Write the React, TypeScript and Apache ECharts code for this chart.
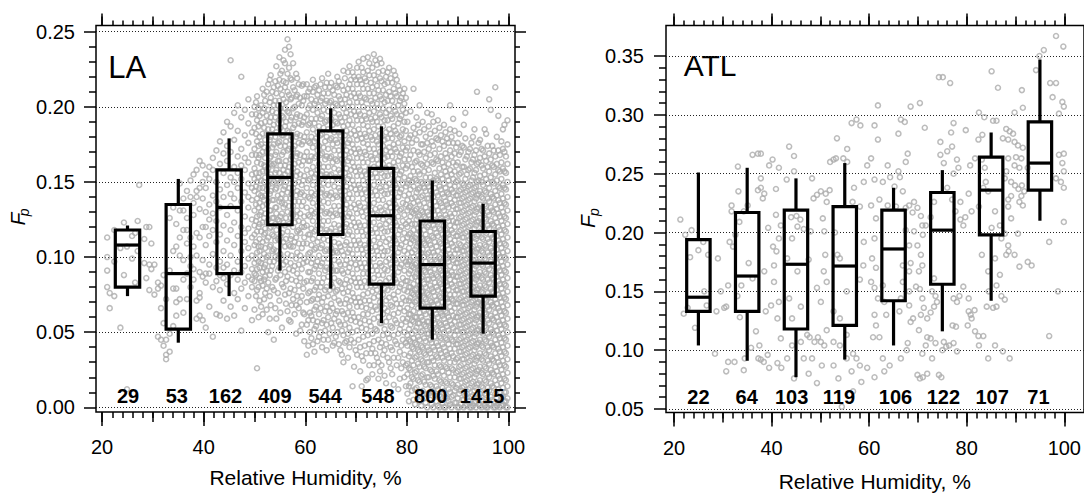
import React, { useEffect, useRef } from "react";
import * as echarts from "echarts";

const FONT = "'Liberation Sans', Arial, Helvetica, sans-serif";

// ---------- bins ----------
const binCenters = [25, 35, 45, 55, 65, 75, 85, 95];

// ---------- LA box statistics ----------
const laLow = [0.074, 0.043, 0.074, 0.091, 0.079, 0.056, 0.045, 0.049];
const laQ1 = [0.08, 0.052, 0.089, 0.1215, 0.115, 0.082, 0.066, 0.074];
const laMedian = [0.108, 0.089, 0.133, 0.153, 0.153, 0.1275, 0.095, 0.096];
const laQ3 = [0.118, 0.135, 0.158, 0.182, 0.184, 0.159, 0.124, 0.117];
const laHigh = [0.121, 0.152, 0.179, 0.203, 0.199, 0.187, 0.151, 0.1355];
const laCounts = [29, 53, 162, 409, 544, 548, 800, 1415];
const laCountRH = [25.1, 34.7, 44.3, 54.0, 63.9, 74.3, 84.7, 94.8];
const laCountLevel = 0.0075;

// ---------- ATL box statistics ----------
const atlLow = [0.104, 0.091, 0.077, 0.092, 0.104, 0.116, 0.142, 0.21];
const atlQ1 = [0.133, 0.133, 0.118, 0.121, 0.142, 0.156, 0.198, 0.236];
const atlMedian = [0.145, 0.163, 0.173, 0.1715, 0.186, 0.202, 0.236, 0.259];
const atlQ3 = [0.194, 0.217, 0.219, 0.222, 0.219, 0.234, 0.264, 0.294];
const atlHigh = [0.251, 0.255, 0.246, 0.259, 0.238, 0.253, 0.285, 0.347];
const atlCounts = [22, 64, 103, 119, 106, 122, 107, 71];
const atlCountRH = [25.0, 34.9, 44.1, 53.8, 65.4, 75.2, 85.2, 94.7];
const atlCountLevel = 0.0598;

// ---------- axis tick values ----------
const rhTicks = [20, 40, 60, 80, 100];
const laFpTicks = [0.0, 0.05, 0.1, 0.15, 0.2, 0.25];
const atlFpTicks = [0.05, 0.1, 0.15, 0.2, 0.25, 0.3, 0.35];

// ---------- LA scatter (RH, Fp in thousandths) ----------
const laColumns: [number, number[]][] = [
  [21.0, [100, 91, 113, 80]], [21.5, [66, 76]], [22.4, [74, 118, 97]], [23.6, [53, 106]],
  [24.3, [123, 88]], [24.9, [12, 107]], [25.9, [99, 114]], [26.5, [116, 83]], [27.0, [124, 104]],
  [27.3, [148]], [28.3, [112, 96]], [28.7, [120, 86]], [29.3, [78, 120, 95]], [29.7, [109, 92]],
  [30.3, [75, 95]], [31.0, [47, 79, 83]], [31.6, [45, 81, 66]], [32.1, [41, 56, 88]],
  [32.6, [35, 32, 45, 72]], [33.3, [37, 49, 91, 126]], [34.0, [54, 79, 104, 133]],
  [34.6, [107, 79, 70, 61, 122]], [35.3, [101, 113, 72, 149, 131]], [36.0, [98, 131, 85, 118, 139, 63]],
  [36.7, [109, 89, 144, 118, 126, 72]], [37.4, [100, 94, 140, 151, 80, 113]],
  [38.0, [85, 136, 128, 107, 92, 155]], [38.6, [116, 140, 59, 71, 144, 158, 101]],
  [39.2, [113, 146, 61, 76, 164, 73, 132, 90]], [39.8, [150, 58, 87, 161, 120, 98, 139]],
  [40.4, [120, 83, 53, 155, 89, 130, 146, 108]], [41.1, [67, 89, 135, 152, 95, 125, 160, 114]],
  [41.8, [80, 47, 141, 158, 102, 118, 129, 166]], [42.5, [84, 62, 93, 137, 150, 171, 110, 124]],
  [43.2, [61, 78, 97, 145, 162, 133, 115, 177, 88]], [43.9, [71, 86, 104, 121, 140, 156, 169, 183, 93]],
  [44.6, [59, 82, 95, 111, 128, 148, 164, 174, 190]], [45.3, [67, 88, 101, 118, 134, 153, 187, 231, 170, 142]],
  [46.0, [61, 76, 91, 108, 123, 139, 160, 178, 196, 150]], [46.7, [72, 85, 97, 114, 131, 146, 167, 184, 201, 156]],
  [47.4, [51, 79, 90, 104, 120, 137, 152, 172, 193, 220, 161]],
  [48.1, [66, 83, 94, 110, 127, 143, 158, 166, 181, 198, 116]],
  [48.8, [74, 87, 99, 106, 119, 133, 149, 163, 176, 189, 205, 140]],
  [49.5, [58, 80, 85, 92, 101, 113, 125, 138, 155, 168, 183, 195, 146]],
  [50.0, [65, 84, 89, 96, 108, 121, 131, 144, 159, 172, 186, 200, 152, 115]],
  [50.3, [74, 88, 99, 110, 124, 135, 147, 156, 168, 182, 195, 203]],
  [50.5, [26, 78, 92, 103, 117, 127, 139, 150, 163, 177, 191, 207]],
  [50.8, [60, 80, 97, 107, 120, 133, 142, 153, 166, 174, 187, 199]],
  [51.0, [71, 86, 93, 104, 112, 128, 136, 146, 156, 168, 180, 194, 122]],
  [51.3, [67, 84, 96, 107, 117, 130, 141, 151, 162, 175, 189, 201]],
  [51.6, [62, 81, 90, 99, 110, 123, 134, 146, 157, 170, 182, 196, 212, 140]],
  [51.9, [72, 85, 93, 102, 115, 126, 138, 150, 161, 173, 186, 199, 208]],
  [52.1, [76, 87, 95, 106, 119, 129, 141, 153, 166, 178, 190, 204, 116, 160]],
  [52.4, [65, 79, 91, 100, 111, 123, 135, 145, 157, 170, 182, 194, 210]],
  [52.7, [50, 83, 101, 113, 125, 137, 148, 159, 172, 185, 198, 215]],
  [53.0, [59, 74, 88, 97, 107, 119, 131, 142, 153, 166, 178, 190, 203, 218]],
  [53.2, [68, 91, 108, 120, 131, 144, 155, 167, 180, 193, 206, 221, 162]],
  [53.5, [80, 94, 104, 115, 126, 138, 149, 161, 173, 185, 197, 210]],
  [53.8, [45, 78, 97, 114, 126, 138, 150, 162, 175, 188, 201, 213, 105]],
  [54.1, [66, 85, 100, 111, 122, 133, 145, 156, 168, 180, 193, 204, 217]],
  [54.3, [59, 86, 104, 118, 133, 146, 158, 170, 183, 196, 209, 227, 129]],
  [54.6, [76, 91, 99, 112, 125, 141, 152, 164, 176, 189, 201, 214]],
  [54.9, [71, 93, 111, 124, 137, 149, 164, 177, 191, 204, 218, 233, 156]],
  [55.1, [63, 88, 102, 114, 127, 139, 150, 161, 174, 186, 199, 212, 222]],
  [55.4, [53, 82, 99, 116, 129, 142, 153, 168, 181, 194, 208, 224, 136]],
  [55.7, [80, 95, 110, 123, 133, 145, 158, 170, 181, 193, 205, 217, 231]],
  [56.0, [75, 90, 107, 121, 135, 147, 161, 174, 187, 199, 213, 229, 238, 155]],
  [56.2, [69, 84, 97, 112, 126, 139, 150, 164, 177, 190, 203, 216]],
  [56.5, [64, 87, 102, 117, 130, 143, 157, 171, 184, 197, 210, 222, 245]],
  [56.8, [58, 76, 92, 108, 122, 134, 146, 160, 172, 183, 196, 208, 226, 240]],
  [57.1, [57, 79, 96, 112, 126, 139, 152, 165, 178, 191, 205, 219, 235, 107]],
  [57.3, [68, 85, 101, 114, 129, 142, 154, 167, 180, 193, 206, 218]],
  [57.6, [72, 91, 107, 120, 134, 146, 159, 172, 186, 199, 213, 128, 229]],
  [57.9, [62, 78, 94, 110, 123, 137, 149, 162, 174, 188, 200, 211]],
  [58.2, [49, 68, 84, 99, 113, 127, 141, 154, 167, 180, 193, 207, 222]],
  [58.4, [74, 89, 103, 117, 131, 144, 157, 169, 182, 195, 208, 219]],
  [58.7, [66, 81, 95, 109, 124, 137, 150, 163, 176, 189, 202, 215, 118]],
  [59.0, [51, 70, 86, 101, 116, 129, 142, 155, 168, 181, 194, 206]],
  [59.3, [55, 74, 92, 106, 120, 134, 148, 161, 175, 188, 201, 214, 143]],
  [59.6, [63, 79, 96, 109, 123, 137, 151, 164, 177, 190, 204, 215]],
  [59.8, [44, 62, 83, 99, 113, 127, 141, 154, 167, 180, 193, 207, 120]],
  [60.3, [35, 55, 70, 84, 97, 109, 121, 133, 146, 158, 170, 183, 195, 207, 215]],
  [60.6, [41, 58, 76, 90, 102, 115, 128, 140, 151, 164, 177, 188, 199, 210]],
  [60.9, [50, 63, 77, 90, 103, 115, 127, 139, 152, 164, 176, 189, 201, 212]],
  [61.2, [46, 61, 71, 84, 96, 108, 119, 131, 143, 156, 167, 180, 192, 205]],
  [61.5, [42, 58, 72, 86, 99, 112, 124, 136, 148, 160, 173, 185, 198, 210, 218]],
  [61.8, [37, 52, 65, 78, 92, 105, 117, 129, 141, 153, 166, 177, 189, 202, 213]],
  [62.1, [54, 67, 80, 94, 106, 118, 130, 142, 155, 167, 179, 192, 204, 214]],
  [62.4, [44, 57, 72, 83, 97, 110, 121, 134, 146, 158, 171, 183, 196, 208]],
  [62.7, [47, 62, 75, 89, 101, 113, 126, 138, 150, 162, 174, 187, 200, 211]],
  [63.0, [50, 66, 80, 94, 106, 119, 131, 143, 155, 168, 181, 192, 204, 215]],
  [63.3, [40, 56, 70, 83, 96, 108, 121, 133, 145, 157, 169, 182, 194, 206, 219]],
  [63.6, [45, 58, 73, 86, 99, 112, 124, 137, 149, 160, 173, 186, 198, 209]],
  [63.9, [51, 64, 78, 91, 104, 116, 129, 141, 153, 165, 177, 190, 202, 213]],
  [64.2, [38, 55, 67, 80, 93, 105, 118, 130, 142, 155, 167, 180, 191, 204, 216]],
  [64.5, [45, 60, 74, 87, 99, 111, 124, 136, 148, 160, 172, 185, 197, 209, 222]],
  [64.8, [49, 64, 78, 92, 104, 117, 129, 141, 154, 166, 178, 191, 203, 213]],
  [65.1, [56, 69, 82, 94, 106, 119, 131, 143, 155, 167, 179, 192, 204, 216]],
  [65.4, [41, 53, 66, 80, 91, 103, 115, 127, 139, 151, 163, 175, 188, 200, 211]],
  [65.7, [43, 59, 73, 86, 98, 110, 122, 134, 147, 159, 171, 183, 196, 208]],
  [66.0, [47, 62, 77, 91, 104, 117, 129, 141, 153, 165, 178, 190, 202, 214]],
  [66.3, [50, 64, 78, 91, 103, 115, 128, 140, 152, 164, 176, 189, 201, 213, 220]],
  [66.6, [42, 57, 71, 84, 97, 109, 121, 134, 146, 158, 171, 183, 195, 207, 217]],
  [66.9, [38, 55, 69, 83, 95, 107, 119, 131, 144, 156, 168, 181, 193, 205]],
  [67.2, [35, 51, 64, 79, 91, 104, 116, 128, 141, 153, 165, 177, 190, 202, 214]],
  [67.5, [30, 48, 62, 76, 89, 101, 114, 126, 138, 150, 162, 174, 187, 199, 211, 224]],
  [67.8, [43, 55, 69, 82, 95, 108, 120, 132, 144, 156, 168, 181, 193, 205, 219]],
  [68.1, [44, 59, 72, 85, 98, 110, 122, 135, 147, 159, 171, 184, 196, 208]],
  [68.4, [33, 49, 63, 77, 90, 103, 115, 127, 139, 152, 164, 176, 188, 200, 212, 223]],
  [68.7, [40, 53, 67, 80, 93, 105, 117, 129, 142, 154, 166, 178, 191, 203, 215, 227]],
  [69.0, [45, 58, 71, 84, 96, 108, 121, 133, 146, 158, 170, 182, 195, 207, 218]],
  [69.3, [14, 50, 63, 76, 89, 102, 114, 126, 139, 151, 163, 175, 188, 200, 212, 223]],
  [69.6, [27, 43, 60, 73, 86, 99, 111, 123, 135, 148, 160, 172, 184, 197, 209, 220]],
  [69.9, [38, 57, 70, 83, 95, 108, 120, 132, 145, 157, 169, 181, 194, 206, 218]],
  [70.2, [35, 51, 67, 80, 92, 105, 117, 129, 142, 154, 166, 178, 191, 203, 215, 226]],
  [70.5, [45, 60, 73, 86, 99, 111, 123, 136, 148, 160, 172, 185, 197, 209, 220, 230]],
  [70.8, [24, 40, 56, 70, 83, 96, 109, 121, 134, 146, 158, 170, 182, 195, 207, 218]],
  [71.1, [14, 34, 53, 67, 80, 93, 105, 117, 130, 142, 154, 166, 179, 191, 203, 215, 226]],
  [71.4, [31, 47, 62, 75, 89, 102, 114, 127, 139, 151, 163, 176, 188, 200, 212, 223, 232]],
  [71.7, [41, 58, 71, 84, 96, 108, 121, 133, 145, 157, 170, 182, 194, 206, 219]],
  [72.0, [18, 36, 52, 66, 80, 93, 106, 118, 131, 143, 155, 168, 180, 192, 205, 217]],
  [72.3, [19, 48, 62, 76, 89, 101, 114, 126, 138, 150, 163, 175, 187, 199, 212, 224, 233]],
  [72.6, [28, 42, 57, 71, 84, 97, 110, 123, 135, 147, 159, 172, 184, 196, 209, 221, 229]],
  [72.9, [36, 54, 68, 81, 94, 106, 118, 131, 143, 155, 167, 180, 192, 204, 216]],
  [73.2, [22, 39, 49, 64, 77, 91, 104, 116, 129, 141, 153, 165, 178, 190, 202, 213, 226]],
  [73.5, [28, 44, 59, 73, 86, 99, 111, 123, 136, 148, 160, 172, 185, 197, 209, 221, 235]],
  [73.8, [36, 52, 67, 81, 94, 107, 119, 132, 144, 156, 169, 181, 193, 206, 218, 231]],
  [74.1, [33, 51, 65, 78, 91, 104, 116, 128, 141, 153, 165, 177, 190, 202, 214, 228]],
  [74.4, [19, 30, 45, 60, 74, 88, 101, 113, 126, 138, 150, 162, 175, 187, 199, 211, 223]],
  [74.7, [24, 40, 56, 70, 83, 96, 109, 121, 133, 146, 158, 170, 182, 195, 207, 219, 232]],
  [75.0, [28, 43, 56, 68, 81, 94, 106, 119, 131, 144, 156, 168, 180, 193, 205, 217, 229]],
  [75.3, [35, 48, 62, 75, 88, 101, 113, 125, 138, 150, 162, 174, 187, 199, 211, 224]],
  [75.6, [21, 38, 52, 66, 79, 92, 104, 117, 129, 142, 154, 166, 178, 191, 203, 215]],
  [75.9, [16, 42, 57, 71, 84, 97, 110, 122, 134, 147, 159, 171, 183, 196, 208, 220]],
  [76.2, [33, 49, 64, 78, 91, 104, 117, 130, 142, 154, 167, 179, 191, 204, 216, 223]],
  [76.5, [30, 46, 60, 73, 86, 99, 112, 124, 136, 149, 161, 173, 185, 198, 210, 226]],
  [76.8, [26, 40, 54, 68, 81, 95, 108, 120, 133, 145, 157, 170, 182, 194, 207, 219]],
  [77.1, [22, 38, 53, 67, 80, 93, 106, 118, 130, 143, 155, 167, 179, 192, 204, 216]],
  [77.4, [15, 33, 48, 62, 75, 88, 101, 113, 126, 138, 151, 163, 175, 187, 200, 212, 224]],
  [77.7, [44, 58, 72, 85, 98, 111, 123, 135, 148, 160, 172, 184, 197, 209, 221]],
  [78.0, [28, 42, 56, 69, 83, 96, 109, 121, 133, 146, 158, 170, 182, 195, 207, 218]],
  [78.3, [12, 33, 49, 63, 77, 90, 103, 115, 127, 140, 152, 164, 176, 189, 201, 214]],
  [78.6, [19, 37, 52, 66, 80, 93, 106, 118, 131, 143, 155, 167, 180, 192, 204, 211]],
  [78.9, [26, 41, 55, 69, 82, 95, 108, 120, 132, 145, 157, 169, 181, 194, 206]],
  [79.2, [30, 45, 59, 73, 86, 99, 112, 124, 136, 149, 161, 173, 185, 198, 209]],
  [79.5, [20, 35, 50, 64, 78, 91, 104, 116, 128, 141, 153, 165, 177, 190, 202, 212]],
  [79.8, [14, 28, 43, 57, 71, 84, 97, 110, 122, 135, 147, 159, 171, 184, 196, 206]],
  [80.1, [9, 22, 29, 41, 48, 59, 66, 77, 84, 95, 102, 113, 120, 131, 138, 149, 161, 173, 190]],
  [80.4, [4, 14, 26, 34, 45, 52, 62, 71, 80, 89, 97, 106, 115, 124, 133, 142, 151, 165, 179]],
  [80.7, [16, 25, 36, 44, 55, 62, 73, 80, 91, 98, 109, 116, 127, 134, 145, 154, 168, 181, 197]],
  [81.0, [11, 20, 31, 40, 49, 58, 68, 76, 86, 94, 103, 112, 122, 130, 139, 150, 160, 176]],
  [81.3, [5, 19, 28, 39, 46, 57, 64, 75, 82, 93, 100, 111, 118, 129, 136, 147, 157, 171, 186, 212]],
  [81.6, [2, 12, 23, 33, 43, 51, 60, 70, 78, 87, 95, 105, 113, 122, 131, 140, 152, 163, 182]],
  [81.9, [13, 24, 34, 42, 53, 60, 71, 79, 89, 96, 107, 115, 125, 132, 143, 151, 164, 178, 193]],
  [82.2, [8, 18, 29, 38, 47, 56, 66, 75, 84, 91, 101, 109, 119, 127, 137, 145, 157, 170, 188]],
  [82.5, [4, 17, 27, 37, 45, 56, 63, 74, 81, 92, 99, 110, 117, 128, 135, 146, 155, 168, 183, 201]],
  [82.8, [1, 10, 21, 32, 41, 50, 60, 68, 77, 86, 95, 103, 113, 121, 131, 140, 150, 162, 175]],
  [83.1, [11, 22, 31, 40, 51, 58, 69, 77, 87, 94, 105, 112, 123, 130, 141, 149, 161, 175, 190]],
  [83.4, [6, 17, 27, 36, 46, 55, 64, 73, 82, 91, 100, 109, 118, 127, 136, 146, 157, 170, 185]],
  [83.7, [3, 15, 26, 35, 44, 54, 62, 72, 80, 90, 97, 108, 115, 126, 133, 144, 153, 166, 180]],
  [84.0, [0, 9, 20, 30, 40, 49, 57, 67, 76, 85, 94, 102, 112, 120, 130, 139, 149, 162, 176, 196]],
  [84.3, [9, 20, 30, 38, 49, 57, 67, 75, 85, 93, 103, 111, 121, 128, 139, 147, 158, 172, 187]],
  [84.6, [5, 15, 25, 36, 45, 53, 63, 71, 81, 90, 98, 108, 117, 125, 135, 144, 153, 168, 182]],
  [84.9, [2, 14, 24, 33, 43, 52, 61, 70, 79, 88, 97, 106, 114, 124, 132, 142, 150, 163, 177, 195]],
  [85.2, [0, 10, 21, 31, 40, 50, 58, 68, 77, 86, 95, 103, 113, 121, 131, 140, 151, 162, 174, 190]],
  [85.5, [8, 19, 28, 38, 47, 56, 65, 74, 83, 92, 101, 110, 119, 128, 137, 146, 156, 169, 184]],
  [85.8, [4, 14, 24, 34, 43, 52, 62, 71, 80, 88, 97, 107, 116, 124, 134, 143, 152, 165, 179]],
  [86.1, [1, 12, 22, 33, 41, 51, 60, 69, 78, 87, 96, 104, 114, 123, 131, 141, 151, 164, 178, 191]],
  [86.4, [0, 8, 18, 28, 38, 47, 56, 65, 74, 83, 92, 100, 110, 119, 128, 137, 147, 159, 172, 186]],
  [86.7, [7, 17, 27, 36, 46, 55, 63, 73, 82, 91, 99, 109, 118, 126, 136, 145, 155, 167, 181]],
  [87.0, [3, 13, 24, 33, 42, 52, 61, 70, 79, 88, 97, 106, 115, 124, 133, 142, 152, 163, 177]],
  [87.3, [0, 11, 21, 31, 40, 50, 59, 67, 77, 86, 95, 104, 113, 121, 131, 140, 149, 160, 174, 188]],
  [87.6, [0, 7, 17, 27, 37, 46, 56, 64, 73, 83, 91, 101, 110, 118, 128, 137, 146, 157, 169, 183]],
  [87.9, [6, 16, 26, 35, 45, 54, 63, 72, 81, 89, 99, 108, 116, 126, 135, 143, 154, 166, 179]],
  [88.2, [4, 12, 23, 33, 42, 51, 60, 70, 78, 88, 97, 105, 115, 124, 133, 142, 151, 162, 176]],
  [88.5, [2, 10, 20, 30, 39, 49, 58, 67, 75, 85, 94, 102, 112, 121, 129, 139, 148, 158, 171, 185, 201]],
  [88.8, [0, 7, 16, 26, 36, 45, 55, 64, 72, 82, 90, 100, 109, 118, 127, 136, 145, 155, 167, 180]],
  [89.1, [8, 15, 25, 34, 44, 53, 61, 71, 80, 88, 98, 107, 116, 124, 134, 143, 152, 163, 176, 192]],
  [89.4, [3, 11, 20, 30, 39, 48, 57, 66, 75, 84, 93, 102, 111, 120, 129, 138, 147, 157, 169, 184]],
  [89.7, [3, 13, 23, 32, 42, 51, 60, 69, 78, 87, 96, 105, 114, 123, 132, 141, 150, 161, 173]],
  [90.0, [0, 6, 15, 24, 33, 42, 51, 60, 69, 78, 87, 96, 105, 114, 123, 132, 141, 151, 163, 176]],
  [90.3, [0, 9, 19, 27, 37, 45, 55, 63, 72, 82, 90, 99, 109, 117, 126, 136, 144, 155, 168, 182]],
  [90.6, [2, 11, 19, 28, 37, 46, 55, 64, 73, 82, 91, 100, 108, 118, 127, 136, 145, 156, 170]],
  [90.9, [5, 13, 22, 32, 40, 50, 58, 68, 77, 85, 94, 104, 113, 121, 130, 139, 149, 160, 174]],
  [91.2, [0, 5, 14, 23, 32, 41, 50, 59, 68, 77, 86, 95, 104, 113, 122, 131, 140, 148, 160, 173, 188]],
  [91.5, [1, 8, 17, 26, 35, 44, 53, 62, 71, 80, 89, 98, 107, 116, 125, 134, 143, 152, 165, 179, 196]],
  [91.8, [2, 9, 18, 27, 36, 45, 54, 63, 72, 81, 90, 99, 108, 117, 126, 135, 144, 155, 167]],
  [92.1, [4, 12, 21, 30, 39, 48, 57, 66, 75, 84, 93, 102, 111, 120, 129, 138, 147, 158, 170]],
  [92.4, [0, 4, 13, 22, 31, 40, 49, 58, 67, 76, 85, 94, 103, 112, 121, 130, 139, 148, 159, 172]],
  [92.7, [0, 7, 16, 25, 34, 43, 52, 61, 70, 79, 88, 97, 106, 115, 124, 133, 142, 151, 163, 176]],
  [93.0, [1, 8, 17, 26, 35, 44, 53, 62, 71, 80, 89, 98, 107, 116, 125, 134, 143, 153, 165, 180]],
  [93.3, [3, 11, 20, 29, 38, 47, 56, 65, 74, 83, 92, 101, 110, 119, 128, 137, 146, 156, 168, 185]],
  [93.6, [0, 4, 13, 22, 31, 40, 49, 58, 67, 76, 85, 94, 103, 112, 121, 130, 139, 147, 158, 171]],
  [93.8, [6, 15, 24, 33, 42, 51, 60, 69, 78, 87, 96, 105, 114, 123, 132, 141, 150, 162, 210]],
  [94.1, [2, 7, 16, 25, 34, 43, 52, 61, 70, 79, 88, 97, 106, 115, 124, 133, 142, 151, 163, 176]],
  [94.4, [1, 9, 18, 27, 36, 45, 54, 63, 72, 81, 90, 99, 108, 117, 126, 135, 144, 154, 166, 178]],
  [94.7, [0, 5, 14, 23, 32, 41, 50, 59, 68, 77, 86, 95, 104, 113, 122, 131, 140, 150, 161, 172]],
  [95.0, [4, 13, 22, 31, 40, 49, 58, 67, 76, 85, 94, 103, 112, 121, 130, 139, 148, 159, 171]],
  [95.3, [1, 9, 18, 27, 36, 45, 54, 63, 72, 81, 90, 99, 108, 117, 126, 135, 144, 155, 167, 185]],
  [95.6, [0, 8, 17, 26, 35, 44, 53, 62, 71, 80, 89, 98, 107, 116, 125, 134, 143, 152, 164, 182]],
  [95.9, [0, 4, 13, 22, 31, 40, 49, 58, 67, 76, 85, 94, 103, 112, 121, 130, 139, 149, 160, 174]],
  [96.2, [2, 11, 20, 29, 38, 47, 56, 65, 74, 83, 92, 101, 110, 119, 128, 137, 146, 157, 169, 205]],
  [96.5, [2, 7, 16, 25, 34, 43, 52, 61, 70, 79, 88, 97, 106, 115, 124, 133, 142, 153, 165, 198]],
  [96.8, [5, 14, 23, 32, 41, 50, 59, 68, 77, 86, 95, 104, 113, 122, 131, 140, 150, 161, 174]],
  [97.1, [0, 4, 13, 22, 31, 40, 49, 58, 67, 76, 85, 94, 103, 112, 121, 130, 139, 149, 160, 171]],
  [97.4, [0, 9, 18, 27, 36, 45, 54, 63, 72, 81, 90, 99, 108, 117, 126, 135, 144, 155, 167, 213]],
  [97.7, [1, 6, 15, 24, 33, 42, 51, 60, 69, 78, 87, 96, 105, 114, 123, 132, 141, 151, 162, 180]],
  [98.0, [3, 12, 21, 30, 39, 48, 57, 66, 75, 84, 93, 102, 111, 120, 129, 138, 147, 158, 171, 194]],
  [98.3, [0, 4, 10, 19, 28, 37, 46, 55, 64, 73, 82, 91, 100, 109, 118, 127, 136, 146, 157, 168]],
  [98.6, [1, 7, 16, 25, 34, 43, 52, 61, 70, 79, 88, 97, 106, 115, 124, 133, 142, 152, 163, 177]],
  [98.9, [2, 7, 13, 22, 31, 40, 49, 58, 67, 76, 85, 94, 103, 112, 121, 130, 139, 148, 159, 172, 185]],
  [99.2, [4, 10, 19, 28, 37, 46, 55, 64, 73, 82, 91, 100, 109, 118, 127, 136, 146, 157, 170, 188]],
  [99.5, [0, 4, 10, 18, 27, 36, 45, 54, 63, 72, 81, 90, 99, 108, 117, 126, 135, 145, 156, 167]],
  [99.8, [0, 6, 14, 23, 32, 41, 50, 59, 68, 77, 86, 95, 104, 113, 122, 131, 140, 150, 162, 175, 191]],
];

// ---------- ATL scatter (RH, Fp) ----------
const atlPoints: [number, number][] = [
  [21.3, 0.211], [22.3, 0.198], [23.6, 0.202], [22.0, 0.131], [22.8, 0.136], [24.3, 0.119], [23.3, 0.179],
  [25.0, 0.185], [26.0, 0.192], [27.0, 0.181], [26.7, 0.138], [26.2, 0.15], [28.4, 0.097], [29.6, 0.15],
  [30.3, 0.136], [30.7, 0.137], [31.1, 0.09], [31.8, 0.223], [32.1, 0.188], [32.6, 0.198], [31.4, 0.192],
  [33.1, 0.256], [33.2, 0.235], [33.8, 0.155], [33.0, 0.146], [34.3, 0.083], [33.5, 0.128], [36.1, 0.266],
  [37.2, 0.267], [37.8, 0.267], [37.2, 0.236], [37.8, 0.238], [38.5, 0.233], [38.2, 0.229], [37.8, 0.246],
  [36.8, 0.116], [37.5, 0.104], [37.8, 0.092], [38.4, 0.09], [37.3, 0.093], [39.2, 0.096], [39.5, 0.085],
  [38.5, 0.167], [39.3, 0.204], [38.8, 0.133], [39.9, 0.138], [39.5, 0.257], [40.2, 0.262], [40.9, 0.237],
  [41.5, 0.255], [41.9, 0.206], [40.3, 0.188], [41.0, 0.184], [40.5, 0.158], [41.5, 0.141], [41.2, 0.089],
  [42.0, 0.085], [43.6, 0.273], [44.6, 0.265], [43.1, 0.245], [44.6, 0.252], [44.0, 0.213], [45.1, 0.214],
  [45.9, 0.211], [45.3, 0.205], [46.6, 0.203], [44.2, 0.195], [43.2, 0.178], [45.3, 0.167], [43.6, 0.144],
  [46.0, 0.137], [44.2, 0.127], [47.3, 0.113], [47.8, 0.111], [48.8, 0.107], [49.5, 0.111], [50.1, 0.107],
  [50.8, 0.104], [48.3, 0.093], [47.6, 0.08], [50.3, 0.087], [49.3, 0.072], [46.6, 0.093], [49.3, 0.232],
  [50.1, 0.235], [51.1, 0.233], [51.9, 0.236], [52.7, 0.262], [52.0, 0.26], [53.2, 0.263], [54.7, 0.263],
  [55.5, 0.26], [55.5, 0.271], [56.4, 0.293], [57.4, 0.296], [58.2, 0.291], [53.4, 0.28], [51.3, 0.226],
  [50.5, 0.212], [50.8, 0.201], [51.0, 0.181], [50.7, 0.167], [51.3, 0.158], [50.1, 0.141], [53.0, 0.2],
  [53.5, 0.181], [54.0, 0.178], [56.6, 0.226], [58.1, 0.222], [58.9, 0.243], [59.6, 0.257], [56.9, 0.238],
  [58.9, 0.192], [55.4, 0.113], [56.7, 0.097], [58.1, 0.087], [57.4, 0.093], [56.4, 0.082], [59.6, 0.085],
  [58.4, 0.073], [54.4, 0.052], [48.0, 0.201], [47.6, 0.177], [49.3, 0.153], [52.7, 0.133], [54.0, 0.127],
  [48.3, 0.246], [48.6, 0.229], [55.4, 0.15], [58.1, 0.16], [58.8, 0.172], [32.4, 0.09], [34.5, 0.093],
  [30.7, 0.082], [35.8, 0.102], [28.7, 0.133], [29.0, 0.178], [31.1, 0.155], [35.3, 0.174], [36.1, 0.161],
  [33.4, 0.209], [34.3, 0.218], [35.1, 0.223], [31.8, 0.218], [40.9, 0.215], [41.5, 0.195], [40.5, 0.172],
  [41.2, 0.127], [41.9, 0.11], [43.2, 0.093], [44.6, 0.076], [44.2, 0.104], [46.0, 0.107], [52.7, 0.107],
  [51.3, 0.117], [54.0, 0.104], [55.4, 0.093], [56.7, 0.065], [52.7, 0.087], [53.7, 0.076],
  [61.8, 0.308], [68.5, 0.307], [70.4, 0.31], [66.5, 0.296], [67.3, 0.294], [66.0, 0.284], [61.8, 0.279],
  [74.3, 0.332], [75.1, 0.332], [76.6, 0.327], [71.4, 0.289], [82.5, 0.302], [83.6, 0.298], [85.4, 0.295],
  [86.1, 0.295], [85.1, 0.337], [86.4, 0.323], [91.3, 0.321], [91.5, 0.306], [89.8, 0.302], [77.3, 0.293],
  [76.8, 0.285], [79.8, 0.287], [82.4, 0.279], [83.2, 0.283], [94.9, 0.35], [95.8, 0.355], [98.3, 0.367],
  [99.8, 0.358], [94.2, 0.338], [97.1, 0.327], [98.3, 0.327], [97.6, 0.315], [99.6, 0.311], [98.9, 0.301],
  [99.9, 0.307], [87.4, 0.28], [88.1, 0.288], [88.8, 0.286], [89.5, 0.284], [88.5, 0.279], [89.8, 0.277],
  [90.5, 0.274], [91.5, 0.272], [91.2, 0.263], [92.5, 0.255], [90.1, 0.264], [89.8, 0.257], [90.8, 0.255],
  [88.5, 0.263], [87.8, 0.246], [89.1, 0.243], [89.9, 0.24], [90.6, 0.237], [91.3, 0.24], [91.8, 0.235],
  [91.2, 0.231], [90.8, 0.226], [91.5, 0.223], [89.1, 0.231], [88.5, 0.228], [88.1, 0.252], [98.9, 0.266],
  [99.9, 0.267], [99.6, 0.259], [99.9, 0.252], [99.3, 0.243], [99.9, 0.238], [98.3, 0.246], [99.9, 0.209],
  [98.7, 0.15], [96.9, 0.112], [96.9, 0.192], [61.1, 0.291], [60.4, 0.263], [61.1, 0.245], [62.8, 0.243],
  [63.8, 0.257], [64.3, 0.247], [66.0, 0.252], [66.3, 0.247], [67.9, 0.267], [67.5, 0.26], [65.2, 0.239],
  [66.9, 0.235], [68.2, 0.223], [69.2, 0.226], [69.9, 0.221], [68.9, 0.217], [70.6, 0.214], [70.9, 0.206],
  [71.0, 0.198], [69.9, 0.189], [70.6, 0.181], [70.9, 0.172], [70.2, 0.167], [68.5, 0.174], [68.2, 0.167],
  [68.2, 0.15], [69.6, 0.154], [70.4, 0.152], [71.2, 0.136], [61.4, 0.212], [61.1, 0.195], [60.6, 0.178],
  [61.4, 0.17], [60.4, 0.158], [61.1, 0.153], [61.8, 0.144], [61.1, 0.13], [61.4, 0.121], [60.8, 0.111],
  [62.1, 0.111], [62.8, 0.093], [61.1, 0.077], [64.2, 0.087], [63.1, 0.082], [66.5, 0.093], [67.9, 0.106],
  [68.5, 0.124], [69.0, 0.127], [67.7, 0.1], [70.6, 0.13], [70.2, 0.117], [71.9, 0.111], [72.6, 0.11],
  [71.6, 0.104], [70.9, 0.097], [69.9, 0.079], [70.4, 0.076], [71.0, 0.077], [71.9, 0.08], [74.3, 0.079],
  [74.8, 0.077], [72.9, 0.093], [73.6, 0.106], [75.3, 0.107], [75.8, 0.103], [76.4, 0.104], [75.0, 0.1],
  [77.1, 0.121], [77.8, 0.12], [78.0, 0.099], [77.3, 0.106], [77.3, 0.144], [78.0, 0.141], [78.5, 0.146],
  [79.3, 0.154], [80.4, 0.144], [80.4, 0.133], [80.8, 0.13], [81.6, 0.134], [81.0, 0.127], [80.2, 0.121],
  [81.7, 0.116], [82.4, 0.112], [83.4, 0.112], [82.5, 0.104], [84.1, 0.137], [84.5, 0.15], [85.4, 0.136],
  [86.1, 0.137], [87.1, 0.146], [87.8, 0.143], [86.1, 0.155], [86.8, 0.164], [88.1, 0.181], [88.6, 0.184],
  [89.8, 0.181], [92.5, 0.175], [93.3, 0.172], [90.8, 0.171], [87.4, 0.099], [88.8, 0.093], [84.4, 0.093],
  [85.8, 0.104], [78.7, 0.226], [80.4, 0.233], [80.7, 0.257], [81.7, 0.263], [83.1, 0.262], [83.7, 0.255],
  [83.9, 0.243], [83.4, 0.238], [84.4, 0.235], [82.5, 0.222], [81.0, 0.218], [79.7, 0.213], [79.3, 0.206],
  [78.7, 0.211], [77.7, 0.218], [77.0, 0.228], [76.0, 0.238], [77.3, 0.25], [78.3, 0.255], [78.0, 0.262],
  [75.3, 0.259], [74.6, 0.266], [76.0, 0.269], [77.0, 0.273], [74.6, 0.277], [73.3, 0.161], [72.9, 0.15],
  [73.6, 0.146], [73.9, 0.141], [73.3, 0.137], [72.6, 0.132], [71.9, 0.127], [70.9, 0.144], [71.6, 0.206],
  [72.6, 0.213], [73.3, 0.226], [89.1, 0.212], [90.5, 0.199], [87.8, 0.199], [87.1, 0.195], [88.5, 0.189],
  [86.8, 0.206], [88.5, 0.222], [85.8, 0.218], [85.1, 0.204], [85.8, 0.178], [84.4, 0.167], [83.1, 0.181],
  [67.5, 0.202], [68.2, 0.189], [69.2, 0.201], [60.4, 0.223], [62.1, 0.228], [63.8, 0.223], [65.5, 0.222],
  [67.5, 0.221], [66.9, 0.172], [66.9, 0.158], [66.5, 0.144], [66.2, 0.133], [68.2, 0.138], [63.1, 0.141],
  [63.5, 0.13], [62.8, 0.155],
];

// ---------- layout (pixels) ----------
const L = { frameL: 96, frameR: 515, frameT: 25.5, frameB: 412, x20: 102.1, x100: 508.5, yTop: 31.7, yBot: 407.3 };
const R = { frameL: 666, frameR: 1084.5, frameT: 25.5, frameB: 412.5, x20: 674, x100: 1069.3, yTop: 56, yBot: 409 };
const W = 1084;
const H = 493;

const laPoints = laColumns.flatMap(([rh, vals]) => vals.map((v) => [rh, v / 1000]));

function boxData(low: number[], q1: number[], med: number[], q3: number[], high: number[]) {
  return binCenters.map((c, i) => [c, low[i], q1[i], med[i], q3[i], high[i]]);
}

const boxRender = (params: any, api: any) => {
  const x = api.value(0);
  const lo = api.value(1);
  const q1 = api.value(2);
  const med = api.value(3);
  const q3 = api.value(4);
  const hi = api.value(5);
  const hw = 2.4;
  const tl = api.coord([x - hw, q3]);
  const br = api.coord([x + hw, q1]);
  const mL = api.coord([x - hw, med]);
  const mR = api.coord([x + hw, med]);
  const top = api.coord([x, hi]);
  const bot = api.coord([x, lo]);
  const cx = api.coord([x, med])[0];
  const st = { stroke: "#000", lineWidth: 3.2, fill: "none" };
  return {
    type: "group",
    children: [
      { type: "line", shape: { x1: cx, y1: tl[1], x2: cx, y2: top[1] }, style: st },
      { type: "line", shape: { x1: cx, y1: br[1], x2: cx, y2: bot[1] }, style: st },
      { type: "rect", shape: { x: tl[0], y: tl[1], width: br[0] - tl[0], height: br[1] - tl[1] }, style: st },
      { type: "line", shape: { x1: mL[0], y1: mL[1], x2: mR[0], y2: mR[1] }, style: st },
    ],
  };
};

const countRender = (params: any, api: any) => {
  const p = api.coord([api.value(0), api.value(1)]);
  return {
    type: "text",
    x: p[0],
    y: p[1],
    style: {
      text: String(api.value(2)),
      fill: "#000",
      fontSize: 20,
      fontWeight: "bold",
      fontFamily: FONT,
      align: "center",
      verticalAlign: "middle",
    },
  };
};

function gridRect(left: number, right: number, top: number, bottom: number, extra: any = {}) {
  return { left, top, width: right - left, height: bottom - top, containLabel: false, ...extra };
}

const hiddenAxis = (gridIndex: number) => ({
  type: "value",
  gridIndex,
  show: false,
  min: 0,
  max: 1,
  splitLine: { show: false },
  axisLine: { onZero: false },
});

function rhAxes(gridIndex: number) {
  const base = {
    type: "value",
    gridIndex,
    min: rhTicks[0],
    max: rhTicks[rhTicks.length - 1],
    axisLine: { show: false, onZero: false },
    splitLine: { show: false },
  };
  const tickStyle = { color: "#000", width: 1.5 };
  return [
    {
      ...base,
      position: "bottom",
      interval: 20,
      axisTick: { show: true, length: 14, lineStyle: tickStyle },
      minorTick: { show: true, splitNumber: 10, length: 6, lineStyle: tickStyle },
      axisLabel: {
        show: true,
        margin: 25,
        fontSize: 20,
        color: "#000",
        fontFamily: FONT,
        formatter: (v: number) => (rhTicks.includes(v) ? String(v) : ""),
      },
    },
    {
      ...base,
      position: "bottom",
      interval: 10,
      axisTick: { show: true, length: 10, lineStyle: tickStyle },
      axisLabel: { show: false },
    },
    {
      ...base,
      position: "top",
      interval: 20,
      axisTick: { show: true, length: 12, lineStyle: tickStyle },
      minorTick: { show: true, splitNumber: 10, length: 5, lineStyle: tickStyle },
      axisLabel: { show: false },
    },
    {
      ...base,
      position: "top",
      interval: 10,
      axisTick: { show: true, length: 9, lineStyle: tickStyle },
      axisLabel: { show: false },
    },
  ];
}

function fpAxes(gridIndex: number, ticks: number[], margin: number) {
  const tickStyle = { color: "#000", width: 1.5 };
  const base = {
    type: "value",
    gridIndex,
    min: ticks[0],
    max: ticks[ticks.length - 1],
    interval: 0.05,
    axisLine: { show: false, onZero: false },
  };
  return [
    {
      ...base,
      position: "left",
      axisTick: { show: true, length: 12, lineStyle: tickStyle },
      minorTick: { show: true, splitNumber: 5, length: 7, lineStyle: tickStyle },
      axisLabel: {
        show: true,
        margin,
        fontSize: 20,
        color: "#000",
        fontFamily: FONT,
        formatter: (v: number) => v.toFixed(2),
      },
      splitLine: { show: true, lineStyle: { color: "#222", width: 1, type: [1, 2] } },
    },
    {
      ...base,
      position: "right",
      axisTick: { show: true, length: 11, lineStyle: tickStyle },
      minorTick: { show: true, splitNumber: 5, length: 5, lineStyle: tickStyle },
      axisLabel: { show: false },
      splitLine: { show: false },
    },
  ];
}

const dataYAxis = (gridIndex: number, frameT: number, frameB: number, yTop: number, yBot: number, vTop: number, vBot: number) => {
  const perPx = (vTop - vBot) / (yBot - yTop);
  return {
    type: "value",
    gridIndex,
    show: false,
    min: vBot - (frameB - yBot) * perPx,
    max: vTop + (yTop - frameT) * perPx,
    splitLine: { show: false },
    axisLine: { onZero: false },
  };
};

const scatterStyle = { color: "rgba(0,0,0,0)", borderColor: "#ababab", borderWidth: 1.55 };

function buildOption() {
  const laTicks = laFpTicks;
  const atlTicks = atlFpTicks;
  return {
    animation: false,
    backgroundColor: "#fff",
    textStyle: { fontFamily: FONT },
    grid: [
      gridRect(L.frameL, L.frameR, L.frameT, L.frameB, { show: true, borderColor: "#000", borderWidth: 1.5, backgroundColor: "transparent" }),
      gridRect(L.frameL, L.frameR, L.yTop, L.yBot),
      gridRect(L.x20, L.x100, L.frameT, L.frameB),
      gridRect(R.frameL, R.frameR, R.frameT, R.frameB, { show: true, borderColor: "#000", borderWidth: 1.5, backgroundColor: "transparent" }),
      gridRect(R.frameL, R.frameR, R.yTop, R.yBot),
      gridRect(R.x20, R.x100, R.frameT, R.frameB),
    ],
    xAxis: [
      hiddenAxis(0),
      hiddenAxis(1),
      ...rhAxes(2),
      hiddenAxis(3),
      hiddenAxis(4),
      ...rhAxes(5),
    ],
    yAxis: [
      hiddenAxis(0),
      ...fpAxes(1, laTicks, 21),
      dataYAxis(2, L.frameT, L.frameB, L.yTop, L.yBot, laTicks[laTicks.length - 1], laTicks[0]),
      hiddenAxis(3),
      ...fpAxes(4, atlTicks, 22),
      dataYAxis(5, R.frameT, R.frameB, R.yTop, R.yBot, atlTicks[atlTicks.length - 1], atlTicks[0]),
    ],
    series: [
      {
        type: "scatter",
        xAxisIndex: 2,
        yAxisIndex: 3,
        data: laPoints,
        symbol: "circle",
        symbolSize: 5,
        itemStyle: scatterStyle,
        large: false,
        progressive: 0,
        silent: true,
        z: 1,
      },
      {
        type: "custom",
        xAxisIndex: 2,
        yAxisIndex: 3,
        data: boxData(laLow, laQ1, laMedian, laQ3, laHigh),
        renderItem: boxRender,
        encode: { x: 0, y: [1, 2, 3, 4, 5] },
        silent: true,
        z: 3,
      },
      {
        type: "custom",
        xAxisIndex: 2,
        yAxisIndex: 3,
        data: laCounts.map((c, i) => [laCountRH[i], laCountLevel, c]),
        renderItem: countRender,
        encode: { x: 0, y: 1 },
        silent: true,
        z: 4,
      },
      {
        type: "scatter",
        xAxisIndex: 8,
        yAxisIndex: 7,
        data: atlPoints,
        symbol: "circle",
        symbolSize: 5,
        itemStyle: scatterStyle,
        large: false,
        progressive: 0,
        silent: true,
        z: 1,
      },
      {
        type: "custom",
        xAxisIndex: 8,
        yAxisIndex: 7,
        data: boxData(atlLow, atlQ1, atlMedian, atlQ3, atlHigh),
        renderItem: boxRender,
        encode: { x: 0, y: [1, 2, 3, 4, 5] },
        silent: true,
        z: 3,
      },
      {
        type: "custom",
        xAxisIndex: 8,
        yAxisIndex: 7,
        data: atlCounts.map((c, i) => [atlCountRH[i], atlCountLevel, c]),
        renderItem: countRender,
        encode: { x: 0, y: 1 },
        silent: true,
        z: 4,
      },
    ],
    graphic: [
      { type: "text", x: 108.3, y: 67.2, style: { text: "LA", fontSize: 31, fontFamily: FONT, fill: "#000", align: "left", verticalAlign: "middle" } },
      { type: "text", x: 683.7, y: 65.8, style: { text: "ATL", fontSize: 30, fontFamily: FONT, fill: "#000", align: "left", verticalAlign: "middle" } },
      { type: "text", x: (L.frameL + L.frameR) / 2, y: 477.5, style: { text: "Relative Humidity, %", fontSize: 21, fontFamily: FONT, fill: "#000", align: "center", verticalAlign: "middle" } },
      { type: "text", x: (R.frameL + 1083.5) / 2, y: 481.3, style: { text: "Relative Humidity, %", fontSize: 21, fontFamily: FONT, fill: "#000", align: "center", verticalAlign: "middle" } },
      { type: "text", x: 17.7, y: 219.2, rotation: Math.PI / 2, style: { text: "F", fontSize: 21, fontStyle: "italic", fontFamily: FONT, fill: "#000", align: "center", verticalAlign: "middle" } },
      { type: "text", x: 24.2, y: 212.4, rotation: Math.PI / 2, style: { text: "p", fontSize: 14, fontStyle: "italic", fontFamily: FONT, fill: "#000", align: "center", verticalAlign: "middle" } },
      { type: "text", x: 587.7, y: 221.5, rotation: Math.PI / 2, style: { text: "F", fontSize: 21, fontStyle: "italic", fontFamily: FONT, fill: "#000", align: "center", verticalAlign: "middle" } },
      { type: "text", x: 594.1, y: 212.2, rotation: Math.PI / 2, style: { text: "p", fontSize: 14, fontStyle: "italic", fontFamily: FONT, fill: "#000", align: "center", verticalAlign: "middle" } },
    ],
  };
}

export default function App() {
  const ref = useRef<HTMLDivElement | null>(null);
  useEffect(() => {
    if (!ref.current) return;
    const chart = echarts.init(ref.current, undefined, { renderer: "svg", width: W, height: H });
    chart.setOption(buildOption() as any);
    return () => {
      chart.dispose();
    };
  }, []);
  return (
    <div
      ref={ref}
      style={{ position: "absolute", left: 0, top: 0, width: W, height: H, overflow: "hidden", background: "#fff" }}
    />
  );
}
